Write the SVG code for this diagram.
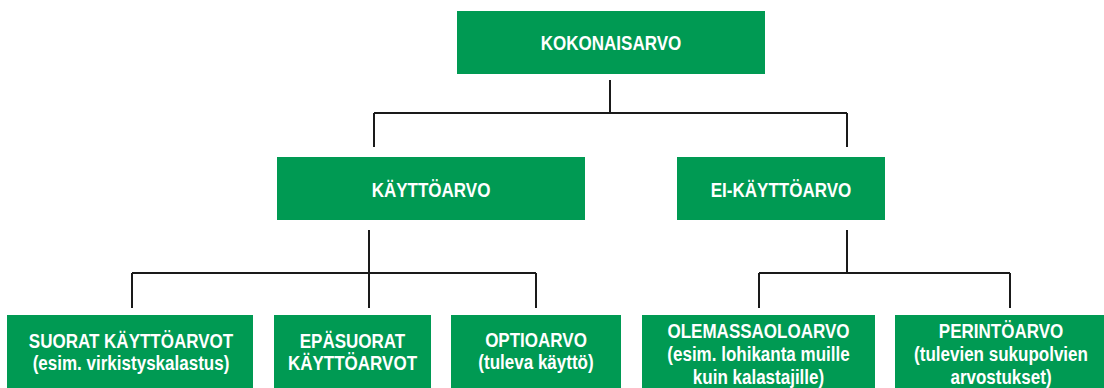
<svg xmlns="http://www.w3.org/2000/svg" width="1104" height="388" viewBox="0 0 1104 388">
<style>
.box{fill:#009a53}
.t{font-family:"Liberation Sans",Arial,sans-serif;font-weight:bold;font-size:20.5px;fill:#fff;text-anchor:middle}
.c{fill:none;stroke:#1a1a1a;stroke-width:2}
</style>
<rect width="1104" height="388" fill="#fff"/>
<g id="connectors" class="c">
<path d="M610 80V113M374 113H847M374 113V147M847 113V147"/>
<path d="M369 230V308M132 273H536M132 273V308M536 273V308"/>
<path d="M847 230V273M759 273H1010M759 273V308M1010 273V308"/>
</g>
<g id="kokonaisarvo"><rect class="box" x="457" y="11" width="308" height="63"/><text class="t" transform="translate(611 50) scale(0.83 1)">KOKONAISARVO</text></g>
<g id="kayttoarvo"><rect class="box" x="277" y="157" width="308" height="63"/><text class="t" transform="translate(431 197) scale(0.83 1)">KÄYTTÖARVO</text></g>
<g id="ei-kayttoarvo"><rect class="box" x="677" y="157" width="208" height="63"/><text class="t" transform="translate(781 197) scale(0.83 1)">EI-KÄYTTÖARVO</text></g>
<g id="suorat"><rect class="box" x="7" y="315" width="246" height="73"/><text class="t" transform="translate(131 348) scale(0.83 1)">SUORAT KÄYTTÖARVOT</text><text class="t" transform="translate(131 370) scale(0.83 1)">(esim. virkistyskalastus)</text></g>
<g id="epasuorat"><rect class="box" x="274" y="315" width="157" height="73"/><text class="t" transform="translate(352.5 348) scale(0.83 1)">EPÄSUORAT</text><text class="t" transform="translate(352.5 370) scale(0.83 1)">KÄYTTÖARVOT</text></g>
<g id="optioarvo"><rect class="box" x="451" y="315" width="170" height="73"/><text class="t" transform="translate(536 347) scale(0.83 1)">OPTIOARVO</text><text class="t" transform="translate(536 369) scale(0.83 1)">(tuleva käyttö)</text></g>
<g id="olemassaoloarvo"><rect class="box" x="642" y="315" width="233" height="73"/><text class="t" transform="translate(758.5 338) scale(0.83 1)">OLEMASSAOLOARVO</text><text class="t" transform="translate(758.5 361) scale(0.83 1)">(esim. lohikanta muille</text><text class="t" transform="translate(758.5 384) scale(0.83 1)">kuin kalastajille)</text></g>
<g id="perintoarvo"><rect class="box" x="895" y="315" width="209" height="73"/><text class="t" transform="translate(1001 338) scale(0.83 1)">PERINTÖARVO</text><text class="t" transform="translate(1001 361) scale(0.83 1)">(tulevien sukupolvien</text><text class="t" transform="translate(1001 384) scale(0.83 1)">arvostukset)</text></g>
</svg>
